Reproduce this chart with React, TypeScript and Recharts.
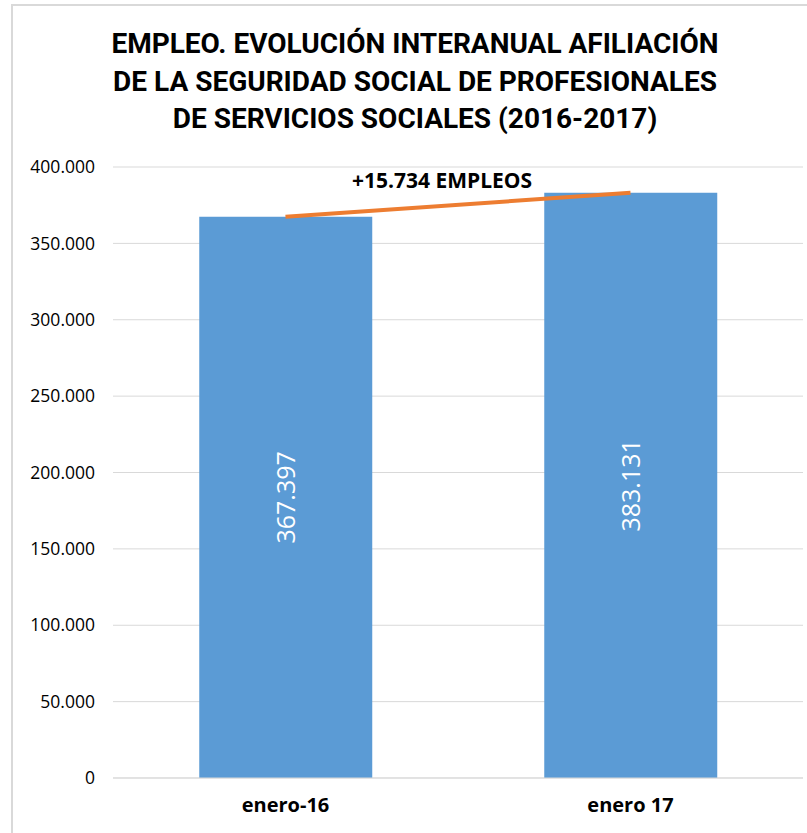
import React from "react";
import { ComposedChart, Bar, Line, XAxis, YAxis, CartesianGrid, LabelList } from "recharts";

const categories = ["enero-16", "enero 17"];
const afiliados = [367397, 383131];
const yTicks = [0, 50000, 100000, 150000, 200000, 250000, 300000, 350000, 400000];
const titleLines = [
  "EMPLEO. EVOLUCIÓN INTERANUAL AFILIACIÓN",
  "DE LA SEGURIDAD SOCIAL DE PROFESIONALES",
  "DE SERVICIOS SOCIALES (2016-2017)",
];
const variationLabel = "+15.734 EMPLEOS";

const data = categories.map((name, i) => ({ name, afiliados: afiliados[i] }));

// miles con punto, como en el original
const fmt = (v: number) => String(Math.round(v)).replace(/\B(?=(\d{3})+(?!\d))/g, ".");

const FONT = "'Open Sans', 'Noto Sans', sans-serif";

export default function App() {
  return (
    <div
      style={{
        position: "absolute",
        left: 0,
        top: 0,
        width: 807,
        height: 833,
        overflow: "hidden",
        background: "#fff",
        fontFamily: FONT,
      }}
    >
      {/* marco del gráfico, recortado a la derecha y abajo */}
      <div
        style={{
          position: "absolute",
          left: 11,
          top: 4,
          width: 900,
          height: 900,
          borderTop: "2px solid #d9d9d9",
          borderLeft: "2px solid #d9d9d9",
        }}
      />
      <div
        style={{
          position: "absolute",
          left: 32,
          top: 25,
          width: 766,
          textAlign: "center",
          fontFamily: "Roboto, sans-serif",
          fontWeight: 700,
          fontSize: 28,
          lineHeight: "37.5px",
          color: "#000",
        }}
      >
        {titleLines.map((t) => (
          <div key={t}>{t}</div>
        ))}
      </div>
      <ComposedChart
        width={807}
        height={833}
        data={data}
        margin={{ top: 167, right: 4, bottom: 0, left: 0 }}
        barCategoryGap="25%"
        style={{ position: "absolute", left: 0, top: 0 }}
      >
        <CartesianGrid stroke="#d9d9d9" vertical={false} />
        <XAxis
          dataKey="name"
          axisLine={{ stroke: "#d9d9d9" }}
          tickLine={false}
          tickSize={0}
          tickMargin={20}
          height={55}
          tick={{ fill: "#000", fontSize: 20, fontWeight: 700, fontFamily: FONT }}
        />
        <YAxis
          width={113}
          domain={[0, 400000]}
          ticks={yTicks}
          tickFormatter={fmt}
          axisLine={false}
          tickLine={false}
          tickSize={0}
          tickMargin={18}
          tick={{ fill: "#000", fontSize: 17.5, fontFamily: FONT }}
        />
        <Bar dataKey="afiliados" fill="#5b9bd5" isAnimationActive={false}>
          <LabelList
            dataKey="afiliados"
            position="center"
            angle={-90}
            formatter={(v: number) => fmt(v)}
            fill="#fff"
            fontSize={25}
            fontFamily={FONT}
          />
        </Bar>
        <Line
          dataKey="afiliados"
          stroke="#ed7d31"
          strokeWidth={4}
          dot={false}
          activeDot={false}
          isAnimationActive={false}
        />
      </ComposedChart>
      <div
        style={{
          position: "absolute",
          left: 322,
          top: 166,
          width: 240,
          textAlign: "center",
          fontWeight: 700,
          fontSize: 21,
          color: "#000",
        }}
      >
        {variationLabel}
      </div>
    </div>
  );
}
